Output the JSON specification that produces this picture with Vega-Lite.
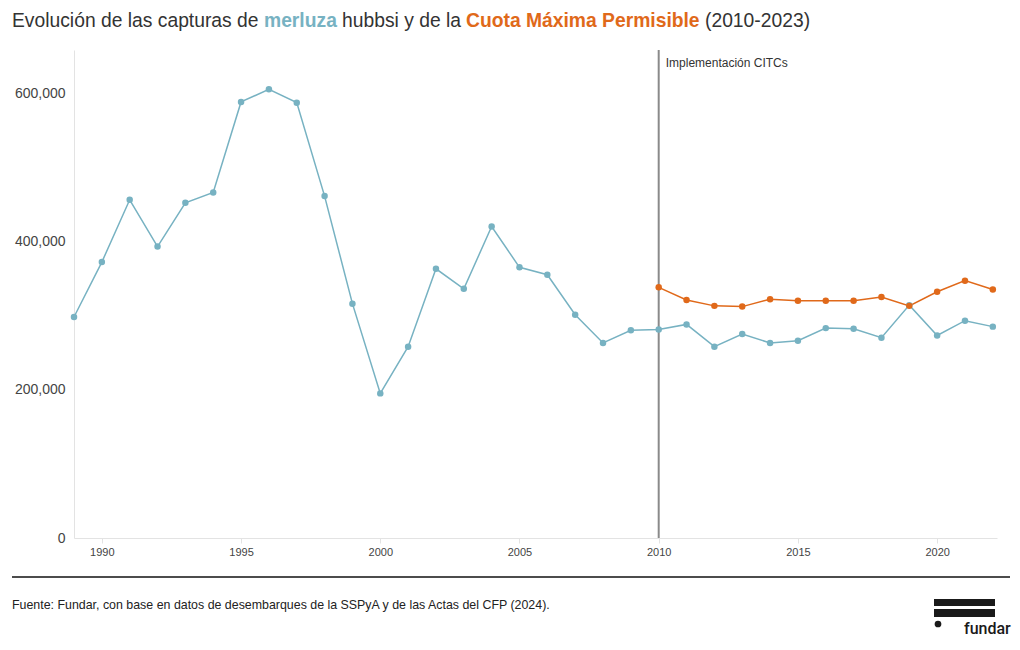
{
  "$schema": "https://vega.github.io/schema/vega-lite/v6.json",
  "background": "white",
  "padding": {"left": 11, "top": 11, "right": 11, "bottom": 5},
  "config": {"view": {"stroke": null}, "font": "Liberation Sans"},
  "spacing": 0,
  "vconcat": [
    {
      "spacing": 5,
      "hconcat": [
        {"width": 1, "height": 1, "data": {"values": []}, "mark": "point",
         "title": {"text": "Evolución de las capturas de", "color": "#333333", "fontSize": 19.3, "fontWeight": "normal", "anchor": "start", "offset": 2, "dx": -62, "baseline": "alphabetic"}},
        {"width": 1, "height": 1, "data": {"values": []}, "mark": "point",
         "title": {"text": "merluza", "color": "#77b2c2", "fontSize": 19.3, "fontWeight": "bold", "anchor": "start", "offset": 2, "dx": -62, "baseline": "alphabetic"}},
        {"width": 1, "height": 1, "data": {"values": []}, "mark": "point",
         "title": {"text": "hubbsi y de la", "color": "#333333", "fontSize": 19.3, "fontWeight": "normal", "anchor": "start", "offset": 2, "dx": -62, "baseline": "alphabetic"}},
        {"width": 1, "height": 1, "data": {"values": []}, "mark": "point",
         "title": {"text": "Cuota Máxima Permisible", "color": "#e0691a", "fontSize": 19.3, "fontWeight": "bold", "anchor": "start", "offset": 2, "dx": -62, "baseline": "alphabetic"}},
        {"width": 1, "height": 1, "data": {"values": []}, "mark": "point",
         "title": {"text": "(2010-2023)", "color": "#333333", "fontSize": 19.3, "fontWeight": "normal", "anchor": "start", "offset": 2, "dx": -62, "baseline": "alphabetic"}}
      ]
    },
    {
      "width": 923,
      "height": 488,
      "layer": [
        {
          "data": {"values": [{"year": 2010, "label": "Implementación CITCs"}]},
          "mark": {"type": "rule", "color": "#8a8a8a", "strokeWidth": 2},
          "encoding": {
            "x": {"field": "year", "type": "quantitative"}
          }
        },
        {
          "data": {"values": [{"year": 2010, "label": "Implementación CITCs"}]},
          "mark": {"type": "text", "align": "left", "baseline": "middle", "dx": 7, "fontSize": 12, "color": "#333333"},
          "encoding": {
            "x": {"field": "year", "type": "quantitative"},
            "y": {"datum": 640000, "type": "quantitative"},
            "text": {"field": "label"}
          }
        },
        {
          "data": {"name": "series"},
          "mark": {"type": "line", "strokeWidth": 1.5},
          "encoding": {
            "x": {"field": "year", "type": "quantitative"},
            "y": {"field": "value", "type": "quantitative"},
            "color": {"field": "serie", "type": "nominal", "legend": null,
                      "scale": {"domain": ["capturas", "cmp"], "range": ["#77b2c2", "#e0691a"]}}
          }
        },
        {
          "data": {"name": "series"},
          "mark": {"type": "circle", "size": 42, "opacity": 1},
          "encoding": {
            "x": {"field": "year", "type": "quantitative"},
            "y": {"field": "value", "type": "quantitative"},
            "color": {"field": "serie", "type": "nominal", "legend": null,
                      "scale": {"domain": ["capturas", "cmp"], "range": ["#77b2c2", "#e0691a"]}}
          }
        }
      ],
      "encoding": {
        "x": {"type": "quantitative",
              "scale": {"domain": [1989, 2022.15], "nice": false, "zero": false},
              "axis": {"values": [1990, 1995, 2000, 2005, 2010, 2015, 2020], "format": "d", "title": null, "grid": false,
                       "labelFontSize": 11, "labelColor": "#444444", "tickColor": "#e3e3e3", "tickSize": 5,
                       "domainColor": "#e3e3e3", "labelPadding": 3}},
        "y": {"type": "quantitative",
              "scale": {"domain": [0, 658000], "nice": false},
              "axis": {"values": [0, 200000, 400000, 600000], "format": ",d", "title": null,
                       "labelFontSize": 14, "labelColor": "#444444", "gridColor": "#ececec",
                       "ticks": false, "tickSize": 0, "labelPadding": 9, "domainColor": "#e3e3e3"}}
      }
    },
    {
      "width": 923,
      "height": 80,
      "data": {"values": [{"k": 1}]},
      "layer": [
        {
          "mark": {"type": "rule", "color": "#111111", "strokeWidth": 1.5},
          "encoding": {
            "x": {"datum": 11, "type": "quantitative", "scale": {"domain": [73, 996], "nice": false, "zero": false}, "axis": null},
            "x2": {"datum": 1009},
            "y": {"datum": 577, "type": "quantitative", "scale": {"domain": [557, 637], "reverse": true, "nice": false, "zero": false}, "axis": null}
          }
        },
        {
          "data": {"values": [{"t": "Fuente: Fundar, con base en datos de desembarques de la SSPyA y de las Actas del CFP (2024)."}]},
          "mark": {"type": "text", "align": "left", "baseline": "alphabetic", "fontSize": 12.4, "color": "#222222"},
          "encoding": {
            "x": {"datum": 11, "type": "quantitative"},
            "y": {"datum": 609, "type": "quantitative"},
            "text": {"field": "t"}
          }
        },
        {
          "mark": {"type": "rect", "color": "#1a1a1a"},
          "encoding": {
            "x": {"datum": 933, "type": "quantitative"},
            "x2": {"datum": 994},
            "y": {"datum": 599, "type": "quantitative"},
            "y2": {"datum": 606}
          }
        },
        {
          "mark": {"type": "rect", "color": "#1a1a1a"},
          "encoding": {
            "x": {"datum": 933, "type": "quantitative"},
            "x2": {"datum": 994},
            "y": {"datum": 609, "type": "quantitative"},
            "y2": {"datum": 617}
          }
        },
        {
          "mark": {"type": "circle", "color": "#1a1a1a", "size": 45, "opacity": 1},
          "encoding": {
            "x": {"datum": 937, "type": "quantitative"},
            "y": {"datum": 624, "type": "quantitative"}
          }
        },
        {
          "data": {"values": [{"t": "fundar"}]},
          "mark": {"type": "text", "align": "left", "baseline": "alphabetic", "fontSize": 16, "font": "Roboto", "fontWeight": 500, "color": "#1a1a1a"},
          "encoding": {
            "x": {"datum": 963, "type": "quantitative"},
            "y": {"datum": 634, "type": "quantitative"},
            "text": {"field": "t"}
          }
        }
      ]
    }
  ],
  "datasets": {
    "series": [
      {"year": 1989, "serie": "capturas", "value": 298000},
      {"year": 1990, "serie": "capturas", "value": 372000},
      {"year": 1991, "serie": "capturas", "value": 456000},
      {"year": 1992, "serie": "capturas", "value": 393000},
      {"year": 1993, "serie": "capturas", "value": 452000},
      {"year": 1994, "serie": "capturas", "value": 466000},
      {"year": 1995, "serie": "capturas", "value": 588000},
      {"year": 1996, "serie": "capturas", "value": 605000},
      {"year": 1997, "serie": "capturas", "value": 587000},
      {"year": 1998, "serie": "capturas", "value": 461000},
      {"year": 1999, "serie": "capturas", "value": 316000},
      {"year": 2000, "serie": "capturas", "value": 195000},
      {"year": 2001, "serie": "capturas", "value": 258000},
      {"year": 2002, "serie": "capturas", "value": 363000},
      {"year": 2003, "serie": "capturas", "value": 336000},
      {"year": 2004, "serie": "capturas", "value": 420000},
      {"year": 2005, "serie": "capturas", "value": 365000},
      {"year": 2006, "serie": "capturas", "value": 355000},
      {"year": 2007, "serie": "capturas", "value": 301000},
      {"year": 2008, "serie": "capturas", "value": 263000},
      {"year": 2009, "serie": "capturas", "value": 280000},
      {"year": 2010, "serie": "capturas", "value": 281000},
      {"year": 2011, "serie": "capturas", "value": 288000},
      {"year": 2012, "serie": "capturas", "value": 258000},
      {"year": 2013, "serie": "capturas", "value": 275000},
      {"year": 2014, "serie": "capturas", "value": 263000},
      {"year": 2015, "serie": "capturas", "value": 266000},
      {"year": 2016, "serie": "capturas", "value": 283000},
      {"year": 2017, "serie": "capturas", "value": 282000},
      {"year": 2018, "serie": "capturas", "value": 270000},
      {"year": 2019, "serie": "capturas", "value": 314000},
      {"year": 2020, "serie": "capturas", "value": 273000},
      {"year": 2021, "serie": "capturas", "value": 293000},
      {"year": 2022, "serie": "capturas", "value": 285000},
      {"year": 2010, "serie": "cmp", "value": 338000},
      {"year": 2011, "serie": "cmp", "value": 321000},
      {"year": 2012, "serie": "cmp", "value": 313000},
      {"year": 2013, "serie": "cmp", "value": 312000},
      {"year": 2014, "serie": "cmp", "value": 322000},
      {"year": 2015, "serie": "cmp", "value": 320000},
      {"year": 2016, "serie": "cmp", "value": 320000},
      {"year": 2017, "serie": "cmp", "value": 320000},
      {"year": 2018, "serie": "cmp", "value": 325000},
      {"year": 2019, "serie": "cmp", "value": 313000},
      {"year": 2020, "serie": "cmp", "value": 332000},
      {"year": 2021, "serie": "cmp", "value": 347000},
      {"year": 2022, "serie": "cmp", "value": 335000}
    ]
  }
}
